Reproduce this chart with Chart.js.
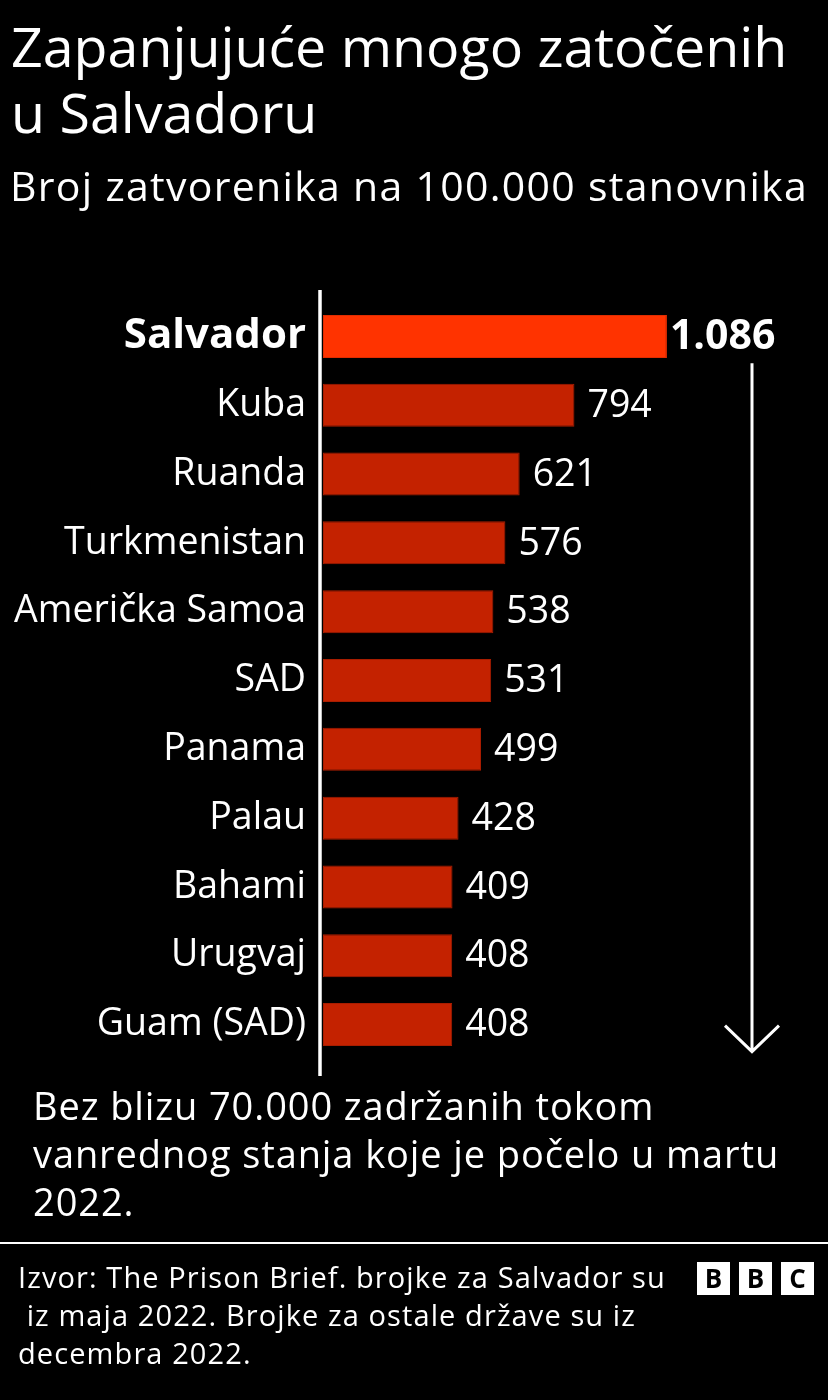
<!DOCTYPE html>
<html>
<head>
<meta charset="utf-8">
<script src="https://cdn.jsdelivr.net/npm/chart.js@4"></script>
<style>
  html, body { margin:0; padding:0; background:#000; }
  body { width:828px; height:1400px; position:relative; overflow:hidden; font-family:"Open Sans", "Noto Sans", sans-serif; color:#fff; }
  .abs { position:absolute; white-space:pre; }
  #title { left:11px; top:13px; font-size:55.5px; line-height:66px; }
  #subtitle { left:10px; top:159px; font-size:41px; line-height:52px; letter-spacing:1.3px; }
  #note { left:33px; top:1081px; font-size:38px; line-height:48px; letter-spacing:0.9px; }
  #sep { position:absolute; left:0; top:1242px; width:828px; height:2px; background:#fff; }
  #source { left:18px; top:1258px; font-size:29px; line-height:38px; letter-spacing:1.1px; }
  .bbc { position:absolute; top:1262px; width:33px; height:33px; background:#fff; color:#000; font-weight:bold; font-size:26px; line-height:33px; text-align:center; font-family:"Open Sans", sans-serif; }
  #wrap { position:absolute; left:0; top:0; width:828px; height:1400px; }
</style>
</head>
<body>
<div id="wrap"><canvas id="c"></canvas></div>
<div class="abs" id="title">Zapanjujuće mnogo zatočenih
u Salvadoru</div>
<div class="abs" id="subtitle">Broj zatvorenika na 100.000 stanovnika</div>
<div class="abs" id="note">Bez blizu 70.000 zadržanih tokom
vanrednog stanja koje je počelo u martu
2022.</div>
<div id="sep"></div>
<div class="abs" id="source">Izvor: The Prison Brief. brojke za Salvador su
 iz maja 2022. Brojke za ostale države su iz
decembra 2022.</div>
<div class="bbc" style="left:697px">B</div>
<div class="bbc" style="left:739px">B</div>
<div class="bbc" style="left:781px">C</div>
<script>
const countries = ["Salvador","Kuba","Ruanda","Turkmenistan","Američka Samoa","SAD","Panama","Palau","Bahami","Urugvaj","Guam (SAD)"];
const prisoners = [1086,794,621,576,538,531,499,428,409,408,408];
const valueLabels = ["1.086","794","621","576","538","531","499","428","409","408","408"];

const FONT = '"Open Sans", "Noto Sans", sans-serif';

const decoPlugin = {
  id: 'deco',
  afterDatasetsDraw(chart) {
    const ctx = chart.ctx;
    const ca = chart.chartArea;
    const meta = chart.getDatasetMeta(0);
    ctx.save();
    // value labels
    meta.data.forEach((bar, i) => {
      const bold = i === 0;
      ctx.font = (bold ? 'bold 41px ' : '37.5px ') + FONT;
      ctx.fillStyle = '#fff';
      ctx.textAlign = 'left';
      ctx.textBaseline = 'middle';
      ctx.fillText(valueLabels[i], bar.x + (bold ? 3 : 13), bar.y + 1);
    });
    // vertical axis line
    ctx.strokeStyle = '#fff';
    ctx.lineWidth = 3.5;
    ctx.beginPath();
    ctx.moveTo(ca.left - 3, ca.top - 12);
    ctx.lineTo(ca.left - 3, ca.bottom + 17);
    ctx.stroke();
    // arrow
    const ax = 752, top = meta.data[1].y - 42, tip = meta.data[meta.data.length-1].y + 27;
    ctx.lineWidth = 3;
    ctx.beginPath();
    ctx.moveTo(ax, top);
    ctx.lineTo(ax, tip);
    ctx.moveTo(ax - 27, tip - 26);
    ctx.lineTo(ax, tip);
    ctx.lineTo(ax + 27, tip - 26);
    ctx.stroke();
    ctx.restore();
  }
};

new Chart(document.getElementById('c'), {
  type: 'bar',
  data: {
    labels: countries,
    datasets: [{
      data: prisoners,
      backgroundColor: prisoners.map((v, i) => i === 0 ? '#ff3300' : '#c42200'),
      borderColor: prisoners.map((v, i) => i === 0 ? '#e02c00' : '#a81d00'),
      borderWidth: 1,
      borderSkipped: false,
      categoryPercentage: 1,
      barPercentage: 0.625
    }]
  },
  options: {
    indexAxis: 'y',
    responsive: true,
    maintainAspectRatio: false,
    animation: false,
    devicePixelRatio: 1,
    layout: { padding: { top: 302, bottom: 341, left: 0, right: 30 } },
    plugins: { legend: { display: false }, tooltip: { enabled: false } },
    scales: {
      x: { display: false, min: 0, max: 1500 },
      y: {
        afterFit(scale) { scale.width = 323; },
        grid: { display: false, drawTicks: false },
        border: { display: false },
        ticks: {
          color: '#fff',
          padding: 17,
          font: (c) => c.index === 0 ? { family: FONT, size: 42, weight: 'bold' } : { family: FONT, size: 37.5 }
        }
      }
    }
  },
  plugins: [decoPlugin]
});
</script>
</body>
</html>
